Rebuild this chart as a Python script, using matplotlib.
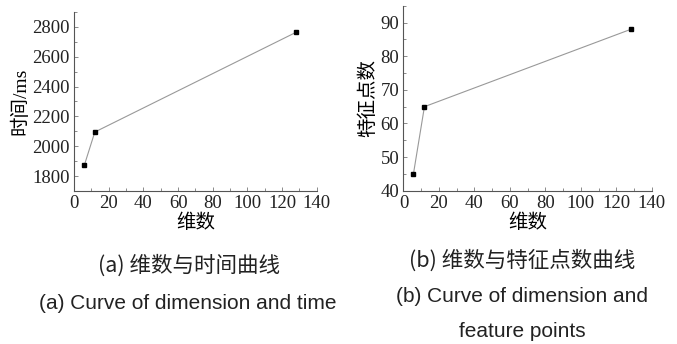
import numpy as np
import matplotlib.pyplot as plt
from matplotlib.ticker import MultipleLocator

# 数据
dims_a = [6, 12, 128]
time_ms = [1874, 2095, 2764]
dims_b = [5.6, 11.8, 128]
feat_pts = [45, 65, 88]

cap_a_cn = '(a) 维数与时间曲线'
cap_a_en = '(a) Curve of dimension and time'
cap_b_cn = '(b) 维数与特征点数曲线'
cap_b_en = '(b) Curve of dimension and'
cap_b_en2 = 'feature points'

serif = ['Liberation Serif', 'Noto Sans CJK SC']
sans = ['Liberation Sans', 'Noto Sans CJK SC']
cjk = ['Noto Sans CJK SC', 'Liberation Serif']

plt.rcParams['font.family'] = serif

fig = plt.figure(figsize=(6.77, 3.44), dpi=100)
ax1 = fig.add_axes([0.1093, 0.445, 0.3587, 0.52])
ax2 = fig.add_axes([0.596, 0.4456, 0.367, 0.5374])


def style(ax, major_y, minor_y):
    for s in ['top', 'right']:
        ax.spines[s].set_visible(False)
    for s in ['left', 'bottom']:
        ax.spines[s].set_color('#555555')
        ax.spines[s].set_linewidth(0.8)
    ax.set_xlim(0, 140)
    ax.xaxis.set_major_locator(MultipleLocator(20))
    ax.xaxis.set_minor_locator(MultipleLocator(10))
    ax.yaxis.set_major_locator(MultipleLocator(major_y))
    ax.yaxis.set_minor_locator(MultipleLocator(minor_y))
    ax.tick_params(which='both', direction='in', color='#777777', width=0.6,
                   labelsize=13.5, pad=3, labelcolor='#222222')
    ax.tick_params(which='major', length=3)
    ax.tick_params(which='minor', length=2)


ax1.plot(dims_a, time_ms, color='#999999', lw=0.8, marker='s', ms=2.5,
         mfc='black', mec='black')
ax1.set_ylim(1700, 2900)
style(ax1, 200, 100)
ax1.set_ylabel('时间/ms', family=serif, fontsize=14, labelpad=2)
ax1.set_xlabel('维数', family=cjk, fontsize=14, labelpad=0)

ax2.plot(dims_b, feat_pts, color='#999999', lw=0.8, marker='s', ms=2.5,
         mfc='black', mec='black')
ax2.set_ylim(40, 95)
style(ax2, 10, 5)
ax2.set_ylabel('特征点数', family=cjk, fontsize=14, labelpad=2)
ax2.set_xlabel('维数', family=cjk, fontsize=14, labelpad=0)

fig.text(0.279, 0.227, cap_a_cn, family=cjk, fontsize=15.5,
         ha='center', va='center', color='#222222')
fig.text(0.278, 0.119, cap_a_en, family=sans, fontsize=15,
         ha='center', va='center', color='#222222')
fig.text(0.771, 0.241, cap_b_cn, family=cjk, fontsize=15.5,
         ha='center', va='center', color='#222222')
fig.text(0.771, 0.137, cap_b_en, family=sans, fontsize=15,
         ha='center', va='center', color='#222222')
fig.text(0.771, 0.035, cap_b_en2, family=sans, fontsize=15,
         ha='center', va='center', color='#222222')

fig.savefig('out.png', dpi=100)
